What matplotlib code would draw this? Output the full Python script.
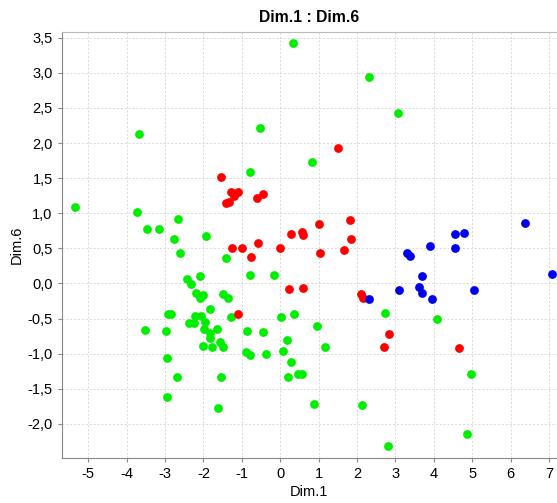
import numpy as np
import matplotlib
matplotlib.use("Agg")
import matplotlib.pyplot as plt
from matplotlib.ticker import FuncFormatter, MultipleLocator

plt.rcParams['font.family'] = ['Liberation Sans', 'DejaVu Sans']
plt.rcParams['axes.unicode_minus'] = False

# cluster 1 (green)
green_x = [-3.67, -0.52, -0.79, 0.33, 2.32, 3.06, 0.83, -5.34, -3.72, -3.48,
           -3.51, -3.17, -2.66, -2.77, -1.94, -2.60, -1.40, -2.43, -2.33, -2.09,
           -0.79, -0.16, -2.20, -2.09, -2.01, -1.48, -1.37, -1.83, -2.93, -2.85,
           -2.98, -1.27, -0.86, -0.44, 0.02, -2.23, -2.07, -2.37, -2.24, -1.95,
           -1.99, -1.83, -1.64, -1.83, -1.57, -1.48, -2.01, -1.78, -0.89, -0.79,
           -0.37, -2.96, -2.70, -1.53, -2.94, -1.62, 0.36, 0.95, 0.18, 0.06,
           1.17, 0.27, 0.21, 0.47, 0.57, 0.87, 2.12, 2.73, 4.07, 4.97,
           4.86, 2.80]
green_y = [2.13, 2.21, 1.59, 3.42, 2.94, 2.43, 1.73, 1.09, 1.02, 0.78,
           -0.66, 0.78, 0.92, 0.64, 0.68, 0.44, 0.36, 0.07, -0.01, 0.10,
           0.12, 0.12, -0.13, -0.20, -0.16, -0.15, -0.21, -0.36, -0.44, -0.44,
           -0.68, -0.48, -0.67, -0.69, -0.48, -0.47, -0.47, -0.56, -0.56, -0.55,
           -0.65, -0.70, -0.65, -0.77, -0.83, -0.91, -0.89, -0.91, -0.97, -1.02,
           -1.00, -1.06, -1.33, -1.33, -1.62, -1.77, -0.43, -0.61, -0.80, -0.96,
           -0.91, -1.12, -1.33, -1.29, -1.29, -1.72, -1.73, -0.42, -0.50, -1.29,
           -2.15, -2.32]

# cluster 2 (red)
red_x = [1.51, 1.02, 1.82, 0.27, 0.56, 0.59, 1.85, 0.00, 1.03, 1.67,
         -1.53, -1.28, -1.11, -1.20, -1.42, -1.33, -0.61, -0.45, -1.26, -0.99,
         -0.58, -0.76, 0.23, 0.58, 2.11, 2.15, 2.84, 2.70, 4.65, -1.09]
red_y = [1.93, 0.85, 0.90, 0.71, 0.74, 0.69, 0.64, 0.50, 0.43, 0.47,
         1.51, 1.30, 1.30, 1.24, 1.14, 1.16, 1.22, 1.27, 0.51, 0.50,
         0.57, 0.38, -0.08, -0.07, -0.15, -0.21, -0.72, -0.91, -0.92, -0.44]

# cluster 3 (blue)
blue_x = [6.36, 4.55, 4.78, 3.90, 4.55, 3.31, 3.38, 7.07, 3.69, 3.09,
          3.60, 3.69, 5.04, 3.96, 2.32]
blue_y = [0.86, 0.70, 0.72, 0.54, 0.50, 0.43, 0.39, 0.135, 0.10, -0.10,
          -0.05, -0.14, -0.10, -0.22, -0.225]

fig = plt.figure(figsize=(5.57, 5.03), dpi=100)
ax = fig.add_axes([0.1108, 0.0895, 0.8892, 0.8475])

ax.scatter(green_x, green_y, s=40, color='#00ee00', linewidths=0, zorder=3)
ax.scatter(red_x, red_y, s=40, color='#ff0000', linewidths=0, zorder=3)
ax.scatter(blue_x, blue_y, s=40, color='#0000ee', linewidths=0, zorder=3)

ax.set_xlim(-5.69, 7.205)
ax.set_ylim(-2.486, 3.587)
ax.xaxis.set_major_locator(MultipleLocator(1))
ax.yaxis.set_major_locator(MultipleLocator(0.5))
ax.yaxis.set_major_formatter(FuncFormatter(lambda v, p: f"{v:.1f}".replace('.', ',')))
ax.xaxis.set_major_formatter(FuncFormatter(lambda v, p: f"{int(round(v))}"))

ax.grid(True, color='#d8d8d8', linestyle=(0, (2, 2)), linewidth=0.7)
ax.set_axisbelow(True)

for s in ['left', 'bottom']:
    ax.spines[s].set_color('#888888')
ax.spines['top'].set_color('#bbbbbb')
ax.spines['right'].set_visible(False)
ax.tick_params(colors='#888888', labelcolor='#000000', labelsize=10.5, length=3, width=0.8)

ax.set_title('Dim.1 : Dim.6', fontsize=11.3, fontweight='bold', pad=7)
ax.set_xlabel('Dim.1', fontsize=10.5, labelpad=3)
ax.set_ylabel('Dim.6', fontsize=10.5, labelpad=3)

fig.savefig('out.png', dpi=100)
